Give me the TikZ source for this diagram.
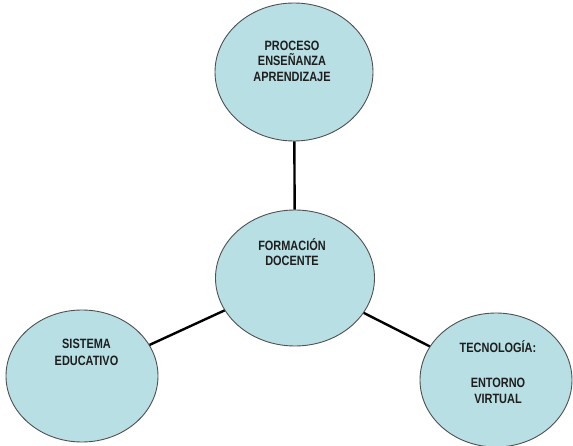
\documentclass[tikz,border=0pt]{standalone}
\usepackage{fontspec}
\newfontfamily\narrowfont[FakeStretch=0.81]{Liberation Sans}
\usetikzlibrary{shapes.geometric}
\definecolor{bubblefill}{RGB}{183,223,228}
\definecolor{bubbleline}{RGB}{80,80,80}
\definecolor{txtcol}{RGB}{30,30,30}
\tikzset{
  bubble/.style={ellipse, draw=bubbleline, line width=0.9pt, fill=bubblefill, inner sep=0pt},
  txt/.style={font=\narrowfont\bfseries\fontsize{13.5}{15.5}\selectfont, text=txtcol, align=center, inner sep=0pt},
  link/.style={line width=2.4pt, black}
}
\begin{document}
\begin{tikzpicture}[x=1pt, y=-1pt]
\useasboundingbox (0,0) rectangle (573,446);
\fill[white] (0,0) rectangle (573,446);
\node[bubble, minimum width=158pt, minimum height=138pt] (top) at (294,72) {};
\node[bubble, minimum width=159pt, minimum height=136pt] (mid) at (295,278) {};
\node[bubble, minimum width=152pt, minimum height=132pt] (left) at (82,376) {};
\node[bubble, minimum width=152pt, minimum height=134pt] (right) at (496,380) {};
\draw[link] (top) -- (mid);
\draw[link] (left) -- (mid);
\draw[link] (mid) -- (right);
\node[txt] (toptext) at (292,61) {PROCESO\\ENSEÑANZA\\APRENDIZAJE};
\node[txt] (midtext) at (292,252) {FORMACIÓN\\DOCENTE};
\node[txt, font=\narrowfont\bfseries\fontsize{13.5}{17}\selectfont] (lefttext) at (86.5,352) {SISTEMA\\EDUCATIVO};
\node[txt, font=\narrowfont\bfseries\fontsize{13.5}{16}\selectfont] (righttext) at (498,372.5) {TECNOLOGÍA:\\[19pt]ENTORNO\\VIRTUAL};
\end{tikzpicture}
\end{document}
